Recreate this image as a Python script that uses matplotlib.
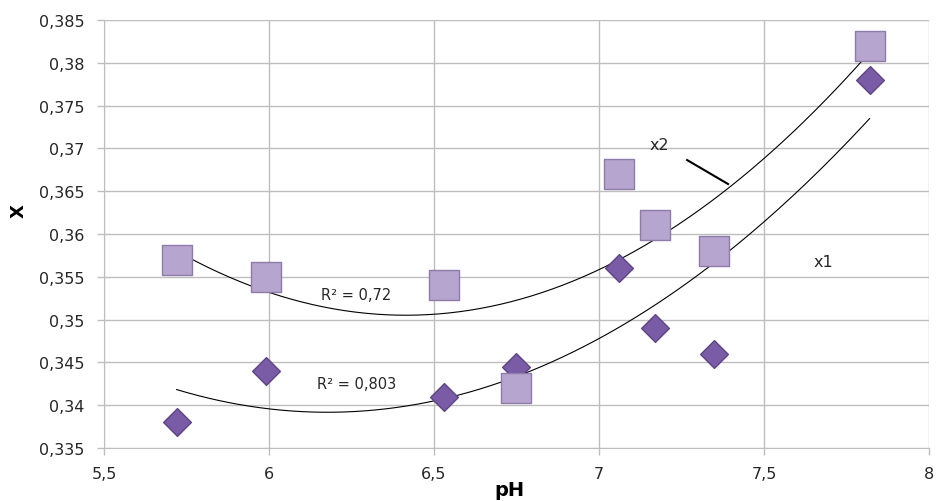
import numpy as np
import matplotlib
matplotlib.use("Agg")
import matplotlib.pyplot as plt
from matplotlib.ticker import FuncFormatter

ph = [5.72, 5.99, 6.53, 6.75, 7.06, 7.17, 7.35, 7.82]
x1 = [0.338, 0.344, 0.341, 0.3445, 0.356, 0.349, 0.346, 0.378]
x2 = [0.357, 0.355, 0.354, 0.342, 0.367, 0.361, 0.358, 0.382]
xticks = [5.5, 6, 6.5, 7, 7.5, 8]
yticks = [0.335, 0.34, 0.345, 0.35, 0.355, 0.36, 0.365, 0.37, 0.375, 0.38, 0.385]

plt.rcParams['font.family'] = ['DejaVu Sans']
W, H = 936, 502
fig = plt.figure(figsize=(W / 100, H / 100), dpi=100)
ax = fig.add_axes([104 / W, 1 - 449 / H, 825 / W, 428 / H])

ax.set_xlim(5.5, 8)
ax.set_ylim(0.335, 0.385)
ax.set_xticks(xticks)
ax.set_yticks(yticks)
fmt = lambda v, p: ('%g' % round(v, 4)).replace('.', ',')
ax.xaxis.set_major_formatter(FuncFormatter(fmt))
ax.yaxis.set_major_formatter(FuncFormatter(fmt))
ax.grid(True, color='#BEBEBE', linewidth=1.0)
ax.set_axisbelow(True)
for s in ['top', 'right']:
    ax.spines[s].set_visible(False)
for s in ['left', 'bottom']:
    ax.spines[s].set_color('#BEBEBE')
ax.tick_params(axis='both', colors='#BEBEBE', labelcolor='#262626', labelsize=11.5, length=5, width=1)
ax.tick_params(axis='y', pad=9)
ax.tick_params(axis='x', pad=8)

xs = np.linspace(min(ph), max(ph), 200)
for ys in (x1, x2):
    c = np.polyfit(ph, ys, 2)
    ax.plot(xs, np.polyval(c, xs), color='black', linewidth=0.8, zorder=2)

ax.scatter(ph, x1, marker='D', s=200, color='#7A5BA6', edgecolors='#5E4585', linewidths=1, zorder=3)
ax.scatter(ph, x2, marker='s', s=480, color='#B6A5CF', edgecolors='#8E7BAA', linewidths=1, zorder=4)

ax.text(6.264, 0.3529, 'R² = 0,72', fontsize=10.5, ha='center', va='center', color='#262626')
ax.text(6.267, 0.3425, 'R² = 0,803', fontsize=10.5, ha='center', va='center', color='#262626')
ax.text(7.182, 0.3704, 'x2', fontsize=11.5, ha='center', va='center', color='#262626')
ax.plot([7.267, 7.391], [0.36864, 0.36584], color='black', linewidth=1.5, zorder=2)
ax.text(7.679, 0.3568, 'x1', fontsize=11.5, ha='center', va='center', color='#262626')

fig.text(509 / W, 1 - 491 / H, 'pH', fontsize=14, fontweight='bold', ha='center', va='center')
fig.text(19 / W, 1 - 211 / H, 'X', fontsize=13, fontweight='bold', ha='center', va='center', rotation=90)

fig.savefig('out.png', dpi=100)
